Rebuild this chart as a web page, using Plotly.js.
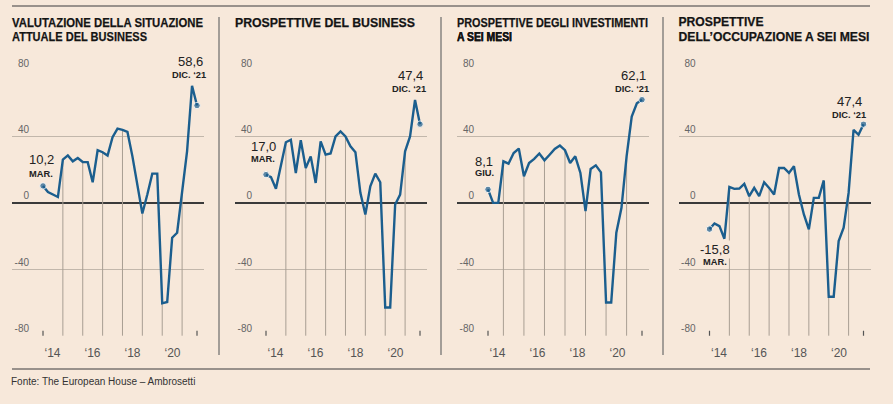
<!DOCTYPE html>
<html><head><meta charset="utf-8">
<script src="https://cdn.plot.ly/plotly-3.0.1.min.js"></script>
<style>html,body{margin:0;padding:0;background:#f7e8da}#chart{width:893px;height:404px}</style>
</head><body><div id="chart"></div><script>
// Quarterly survey periods (Mar 2014 – Dec 2021)
const periods = [
 'MAR. ‘14','GIU. ‘14','SET. ‘14','DIC. ‘14',
 'MAR. ‘15','GIU. ‘15','SET. ‘15','DIC. ‘15',
 'MAR. ‘16','GIU. ‘16','SET. ‘16','DIC. ‘16',
 'MAR. ‘17','GIU. ‘17','SET. ‘17','DIC. ‘17',
 'MAR. ‘18','GIU. ‘18','SET. ‘18','DIC. ‘18',
 'MAR. ‘19','GIU. ‘19','SET. ‘19','DIC. ‘19',
 'MAR. ‘20','GIU. ‘20','SET. ‘20','DIC. ‘20',
 'MAR. ‘21','GIU. ‘21','SET. ‘21','DIC. ‘21'
];
const periodsInvestimenti = periods.slice(1); // series starts in June 2014

const valutazione = [10.2, 6.5, 5, 3.5, 26, 28.6, 25, 27, 24.6, 24.5, 12.4, 31.7, 30.5, 28.5, 39.5, 44.7,
  44, 42.7, 28, 12, -6.4, 5, 17.6, 17.6, -60.5, -59.7, -21, -18, 5, 31, 70.5, 58.6];
const prospettiveBusiness = [17.0, 15.5, 8.5, 23, 36.5, 38, 18, 37.7, 21, 28, 12, 37, 29, 29.7, 40, 43,
  40, 34, 30.5, 6, -7, 10, 17.6, 12.4, -63, -63, -1, 5, 31, 40, 62, 47.4];
const prospettiveInvestimenti = [8.1, 0, 0, 25, 23.6, 30, 32.7, 16, 24, 26.5, 29.7, 25.6, 29, 32.5, 34.5,
  31.7, 24, 28, 18, -5, 20.4, 22.6, 18.4, -60, -60, -18, -3, 28, 52, 60, 62.1];
const prospettiveOccupazione = [-15.8, -12.4, -14, -21.6, 9.6, 8.4, 8.6, 11.4, 4, 9, 4, 12.4, 9, 5, 21, 21,
  18, 22, 5, -7, -16, 3, 3, 13.5, -56.5, -56.5, -23, -15, 6, 44, 41, 47.4];

const titles = [
  ['VALUTAZIONE DELLA SITUAZIONE', 'ATTUALE DEL BUSINESS'],
  ['PROSPETTIVE DEL BUSINESS', 'A SEI MESI'],
  ['PROSPETTIVE DEGLI INVESTIMENTI', 'A SEI MESI'],
  ['PROSPETTIVE', 'DELL’OCCUPAZIONE A SEI MESI']
];
const yTicks = [-80, -40, 0, 40, 80];
const yTickText = ['-80', '-40', '0', '40', '80'];
const xTickText = ['‘14', '‘16', '‘18', '‘20'];
const source = 'Fonte: The European House – Ambrosetti';

// ---------- layout / styling ----------
const W = 893, H = 404;
const BG = '#f7e8da';
const LINE = '#1b5e8e';
const panelLeft = [12, 235, 457, 678.5];
const panelW = 192;
const firstOff = 31, lastOff = 185;           // px offsets of first / last point inside a panel
const xLabelOff = [40.5, 80.5, 120.5, 160.5];  // px offsets of year labels
const yTopPx = 69.5, yBotPx = 336.2;
const yRange = [-80.3, 80.3];
const titleSizes = [13.7, 12.8, 12.8, 12.1];
const titleWidths = [[191, 135], [180, 63], [191, 55], [85, 191]]; // rendered widths (px) of title lines
const labelShift = [
  {f: [-2, 26, 12], l: [-7, 44, 31], bgF: false, bgL: true},
  {f: [-3, 28.5, 16], l: [-10, 48.5, 35], bgF: false, bgL: true},
  {f: [-4, 28, 16], l: [-9, 24, 11], bgF: false, bgL: false},
  {f: [5, -20, -33], l: [-14, 23, 9.5], bgF: true, bgL: true}
];

const series = [valutazione, prospettiveBusiness, prospettiveInvestimenti, prospettiveOccupazione];
const seriesPeriods = [periods, periods, periodsInvestimenti, periods];

const traces = [];
const annotations = [];
const shapes = [];
const widthByText = {};
const layout = {
  width: W, height: H, margin: {l: 0, r: 0, t: 0, b: 0},
  paper_bgcolor: BG, plot_bgcolor: 'rgba(0,0,0,0)',
  showlegend: false, hovermode: false,
  font: {family: 'Liberation Sans, Arial, sans-serif', color: '#333'}
};
const fmt = v => v.toFixed(1).replace('.', ',');

series.forEach((vals, k) => {
  const n = vals.length;
  const pers = seriesPeriods[k];
  const sfx = k === 0 ? '' : String(k + 1);
  const xa = 'x' + sfx, ya = 'y' + sfx;
  const span = lastOff - firstOff;
  const pxToIdx = off => (off - firstOff) / span * (n - 1);
  const idx = vals.map((_, i) => i);

  const left = panelLeft[k];
  layout['xaxis' + sfx] = {
    domain: [left / W, (left + panelW) / W], anchor: ya,
    range: [pxToIdx(0), pxToIdx(panelW)],
    showgrid: false, zeroline: false, showline: false, ticks: '',
    tickmode: 'array', tickvals: xLabelOff.map(pxToIdx), ticktext: xTickText,
    tickfont: {size: 12, color: '#555', family: 'Liberation Sans, Arial, sans-serif'},
    ticklabelstandoff: 8, fixedrange: true
  };
  layout['yaxis' + sfx] = {
    domain: [1 - yBotPx / H, 1 - yTopPx / H], anchor: xa,
    range: yRange, tickmode: 'array', tickvals: yTicks.filter(t => t !== 0),
    showticklabels: false, ticks: '', showgrid: true, gridcolor: '#c2b7ab', gridwidth: 1,
    zeroline: true, zerolinecolor: '#3a3a3a', zerolinewidth: 1.3, showline: false, fixedrange: true
  };
  // label axis: right-aligned tick labels sitting above each grid line
  const lab = 'yaxis' + (k + 5);
  layout[lab] = {
    overlaying: ya, anchor: 'free', position: (left + 17) / W, side: 'left',
    range: yRange, tickmode: 'array', tickvals: yTicks, ticktext: yTickText,
    ticklabelposition: 'outside top', ticklabeloverflow: 'allow',
    showgrid: false, zeroline: false, showline: false, ticks: '',
    tickfont: {size: 10, color: '#666', family: 'Liberation Sans, Arial, sans-serif'},
    fixedrange: true
  };
  traces.push({x: [], y: [], xaxis: xa, yaxis: 'y' + (k + 5), type: 'scatter', showlegend: false});

  // drop lines at each March reading (from the bottom of the scale to the value)
  const dx = [], dy = [];
  pers.forEach((p, i) => {
    if (i > 0 && p.startsWith('MAR')) { dx.push(i, i, null); dy.push(yTicks[0], vals[i], null); }
  });
  traces.push({x: dx, y: dy, xaxis: xa, yaxis: ya, mode: 'lines', type: 'scatter',
    line: {color: '#a89e93', width: 1}, hoverinfo: 'skip', cliponaxis: false});
  // small end ticks on the bottom line
  traces.push({x: [0, 0, null, n - 1, n - 1], y: [yTicks[0], yTicks[0] + 3, null, yTicks[0], yTicks[0] + 3],
    xaxis: xa, yaxis: ya, mode: 'lines', type: 'scatter',
    line: {color: '#555', width: 1.2}, hoverinfo: 'skip', cliponaxis: false});
  // main series
  traces.push({x: idx, y: vals, xaxis: xa, yaxis: ya, mode: 'lines+markers', type: 'scatter',
    line: {color: LINE, width: 2.4, shape: 'linear'},
    marker: {color: LINE, size: vals.map((_, i) => (i === 0 || i === n - 1) ? 6.5 : 0)},
    cliponaxis: false});

  // value labels
  const ls = labelShift[k];
  const addLab = (i, sh, bg, isLast) => {
    annotations.push({xref: xa, yref: ya, x: i, y: vals[i], text: fmt(vals[i]), showarrow: false,
      xshift: sh[0], yshift: sh[1], font: {size: 13, color: '#222', family: 'Liberation Sans, Arial, sans-serif'},
      bgcolor: bg ? BG : 'rgba(0,0,0,0)', borderpad: 1});
    annotations.push({xref: xa, yref: ya, x: i, y: vals[i],
      text: '<b>' + (isLast ? pers[i] : pers[i].split(' ')[0]) + '</b>', showarrow: false,
      xshift: sh[0] + (isLast ? -1 : 0), yshift: sh[2],
      font: {size: 9.3, color: '#222', family: 'Liberation Sans, Arial, sans-serif'},
      bgcolor: bg ? BG : 'rgba(0,0,0,0)', borderpad: 1});
  };
  addLab(0, ls.f, ls.bgF, false);
  addLab(n - 1, ls.l, ls.bgL, true);

  // titles
  titles[k].forEach((t, j) => {
    widthByText[t] = {w: titleWidths[k][j], left: left};
    annotations.push({xref: 'paper', yref: 'paper', x: left / W, xanchor: 'left',
      y: 1 - (22 + 15 * j) / H, yanchor: 'middle', text: '<b>' + t + '</b>', showarrow: false,
      font: {color: '#141414', family: 'Liberation Sans, Arial, sans-serif', size: titleSizes[k]}});
  });

  // divider between panels
  if (k < 3) {
    const dxp = [219, 441, 663][k];
    shapes.push({type: 'line', xref: 'paper', yref: 'paper', x0: dxp / W, x1: dxp / W,
      y0: 1 - 355 / H, y1: 1 - 17 / H, line: {color: '#6b6b6b', width: 1.2}});
  }
});

shapes.push({type: 'line', xref: 'paper', yref: 'paper', x0: 12 / W, x1: 870 / W, y0: 1 - 6 / H, y1: 1 - 6 / H,
  line: {color: '#7a7470', width: 1.3}});
shapes.push({type: 'line', xref: 'paper', yref: 'paper', x0: 12 / W, x1: 870 / W, y0: 1 - 369 / H, y1: 1 - 369 / H,
  line: {color: '#7a7470', width: 1.3}});
annotations.push({xref: 'paper', yref: 'paper', x: 9 / W, xanchor: 'left', y: 1 - 381.5 / H, yanchor: 'middle',
  text: source, showarrow: false, font: {size: 10, color: '#333', family: 'Liberation Sans, Arial, sans-serif'}});

layout.annotations = annotations;
layout.shapes = shapes;
Plotly.newPlot('chart', traces, layout, {staticPlot: true, displayModeBar: false}).then(gd => {
  // condense the bold titles to the width they occupy in the original graphic
  gd.querySelectorAll('text.annotation-text').forEach(t => {
    const spec = widthByText[t.textContent];
    if (!spec) return;
    t.setAttribute('textLength', spec.w);
    t.setAttribute('lengthAdjust', 'spacingAndGlyphs');
    t.style.stroke = '#141414';
    t.style.strokeWidth = '0.25px';
    const bb = t.getBBox();
    const ctm = t.getScreenCTM();
    const svgCtm = gd.querySelector('svg.main-svg').getScreenCTM();
    const leftScreen = bb.x * ctm.a + ctm.e - svgCtm.e;
    const x = parseFloat(t.getAttribute('x')) || 0;
    t.setAttribute('x', x + (spec.left - leftScreen));
  });
});
</script></body></html>
